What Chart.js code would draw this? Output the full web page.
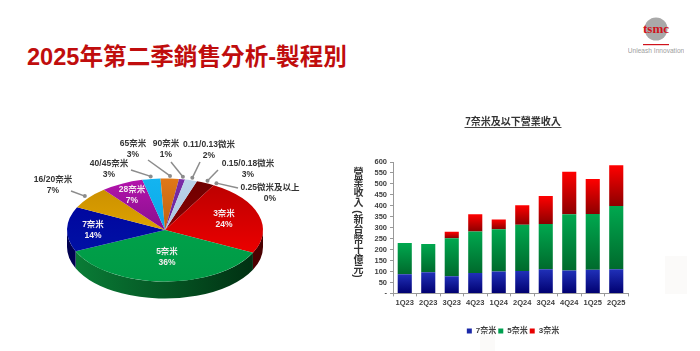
<!DOCTYPE html>
<html>
<head>
<meta charset="utf-8">
<script src="https://cdn.jsdelivr.net/npm/chart.js@4"></script>
<style>
  html, body { margin: 0; padding: 0; background: #fff; }
  body { width: 700px; height: 351px; position: relative; overflow: hidden;
         font-family: "Liberation Sans", "Noto Sans CJK TC", sans-serif; }
  #pageTitle { position: absolute; left: 27px; top: 43px; font-size: 23.6px; font-weight: bold;
               color: #c00d0d; white-space: nowrap; line-height: 28px; }
  #pieBox { position: absolute; left: 0; top: 110px; width: 330px; height: 240px; }
  #barBox { position: absolute; left: 340px; top: 100px; width: 346px; height: 250px; }
  #yTitle { position: absolute; left: 350px; top: 167px; writing-mode: vertical-rl; font-size: 10px;
            font-weight: bold; color: #333; line-height: 14px; white-space: nowrap; letter-spacing: 0.1px; }
  .tile { position: absolute; background: #fbfaf9; }
  #logo { position: absolute; left: 628px; top: 14px; width: 56px; height: 44px; }
</style>
</head>
<body>
<div class="tile" style="left:665px;top:256px;width:22px;height:38px"></div>
<div class="tile" style="left:480px;top:335px;width:15px;height:16px"></div>
<div id="pageTitle">2025年第二季銷售分析-製程別</div>
<svg id="logo" viewBox="0 0 56 44">
  <circle cx="28" cy="15" r="11.5" fill="#a9a9a9"/>
  <text x="28" y="19" text-anchor="middle" font-family="Liberation Serif" font-size="13" font-weight="bold" fill="#d0121b">tsmc</text>
  <rect x="15" y="30" width="26" height="1.2" fill="#d0121b"/>
  <text x="28" y="39" text-anchor="middle" font-family="Liberation Sans" font-size="6.6" fill="#a0a0a0">Unleash Innovation</text>
</svg>
<div id="pieBox"><canvas id="pieCanvas"></canvas></div>
<div id="barBox"><canvas id="barCanvas"></canvas></div>
<div id="yTitle">營業收入 (新台幣十億元)</div>

<script>
// Datos del pastel (% por nodo)
var nodeLabels = ["0.25微米及以上", "0.15/0.18微米", "3奈米", "5奈米", "7奈米", "16/20奈米", "28奈米", "40/45奈米", "65奈米", "90奈米", "0.11/0.13微米"];
var nodeShares = [0, 3, 24, 36, 14, 7, 7, 3, 3, 1, 2];

// Datos de las barras
var quarters = ["1Q23", "2Q23", "3Q23", "4Q23", "1Q24", "2Q24", "3Q24", "4Q24", "1Q25", "2Q25"];
var rev7nm = [88, 97, 78, 93, 100, 102, 110, 104, 108, 110];
var rev5nm = [142, 129, 174, 190, 193, 211, 207, 257, 254, 289];
var rev3nm = [0, 0, 29, 78, 45, 89, 128, 194, 160, 186];

// Colores de cada porción: cara superior (arriba, abajo) y pared (izquierda, derecha)
var topColors = [
  ["#8b0000", "#8b0000"], ["#6e0000", "#a00000"], ["#b80000", "#ff0000"], ["#00a84f", "#009a45"],
  ["#00009c", "#0018a8"], ["#c88c00", "#f2b800"], ["#b414ac", "#5c0a70"], ["#14b4f0", "#00a0e0"],
  ["#e07818", "#a04a08"], ["#7a2ca8", "#5a1c88"], ["#bcd4ea", "#98b8d8"]
];
var wallColors = {
  "3奈米": ["#8a0000", "#4a0000"],
  "5奈米": ["#0a8038", "#002c10"],
  "7奈米": ["#000050", "#000070"]
};

// Posición de los textos del pastel (centro de cada línea) y del inicio de la guía
var pieText = {
  "0.25微米及以上": { x: 270, y: 78, lx: 238, ly: 78, nudge: 11 },
  "0.15/0.18微米": { x: 248, y: 54, lx: 218, ly: 60 },
  "0.11/0.13微米": { x: 209, y: 35, lx: 200, ly: 52 },
  "90奈米": { x: 166, y: 34, lx: 171, ly: 52 },
  "65奈米": { x: 133, y: 34, lx: 148, ly: 50 },
  "40/45奈米": { x: 109, y: 54, lx: 131, ly: 60 },
  "16/20奈米": { x: 53, y: 70, lx: 71, ly: 81 },
  "28奈米": { x: 132, y: 80, white: true },
  "7奈米": { x: 93, y: 115, white: true },
  "5奈米": { x: 167, y: 142, white: true },
  "3奈米": { x: 224, y: 104, white: true }
};

var labelFont = 'bold 8.5px "Liberation Sans", "Noto Sans CJK TC", sans-serif';
var pieSquash = 0.526;
var pieDepth = 17;

// Dibuja el pastel inclinado usando los arcos que calcula Chart.js
var tiltPlugin = {
  id: "tilt",
  beforeDatasetDraw: function (chart) {
    var ctx = chart.ctx;
    var arcs = chart.getDatasetMeta(0).data;
    var cx = arcs[0].x, cy = arcs[0].y, r = arcs[0].outerRadius, ry = r * pieSquash;

    // pared lateral
    arcs.forEach(function (arc, i) {
      var colors = wallColors[nodeLabels[i]];
      if (!colors) return;
      var grad = ctx.createLinearGradient(cx - r, 0, cx + r, 0);
      grad.addColorStop(0, colors[0]);
      grad.addColorStop(1, colors[1]);
      ctx.fillStyle = grad;
      [-2 * Math.PI, 0, 2 * Math.PI].forEach(function (k) {
        var lo = Math.max(arc.startAngle + k, 0);
        var hi = Math.min(arc.endAngle + k, Math.PI);
        if (hi <= lo) return;
        ctx.beginPath();
        ctx.ellipse(cx, cy + pieDepth, r, ry, 0, lo, hi);
        ctx.ellipse(cx, cy, r, ry, 0, hi, lo, true);
        ctx.closePath();
        ctx.fill();
      });
    });

    // cara superior
    ctx.save();
    ctx.translate(cx, cy);
    ctx.scale(1, pieSquash);
    ctx.translate(-cx, -cy);
    arcs.forEach(function (arc) { arc.draw(ctx); });
    ctx.restore();
    return false;
  },
  afterDraw: function (chart) {
    var ctx = chart.ctx;
    var arcs = chart.getDatasetMeta(0).data;
    ctx.save();
    ctx.textAlign = "center";
    ctx.textBaseline = "middle";
    ctx.font = labelFont;
    arcs.forEach(function (arc, i) {
      var spot = pieText[nodeLabels[i]];
      if (spot.lx !== undefined) {
        var mid = (arc.startAngle + arc.endAngle) / 2 + (spot.nudge || 0) * Math.PI / 180;
        var ex = arc.x + arc.outerRadius * 1.05 * Math.cos(mid);
        var ey = arc.y + arc.outerRadius * pieSquash * 1.05 * Math.sin(mid);
        ctx.strokeStyle = "#8c8c8c";
        ctx.fillStyle = "#8c8c8c";
        ctx.lineWidth = 1.5;
        ctx.beginPath();
        ctx.moveTo(spot.lx, spot.ly);
        ctx.lineTo(ex, ey);
        ctx.stroke();
        ctx.beginPath();
        ctx.arc(ex, ey, 2, 0, 2 * Math.PI);
        ctx.fill();
      }
      ctx.fillStyle = spot.white ? "#f4eef0" : "#333";
      ctx.fillText(nodeLabels[i], spot.x, spot.y);
      ctx.fillText(nodeShares[i] + "%", spot.x, spot.y + 11);
    });
    ctx.restore();
  }
};

function sliceGradient(context) {
  var chart = context.chart;
  var h = chart.height / 2;
  var grad = chart.ctx.createLinearGradient(0, h - 98, 0, h + 98);
  var c = topColors[context.dataIndex];
  grad.addColorStop(0, c[0]);
  grad.addColorStop(1, c[1]);
  return grad;
}

new Chart(document.getElementById("pieCanvas"), {
  type: "pie",
  data: {
    labels: nodeLabels,
    datasets: [{ data: nodeShares, backgroundColor: sliceGradient, borderWidth: 0, radius: 98 }]
  },
  options: {
    responsive: true,
    maintainAspectRatio: false,
    animation: false,
    rotation: 19,
    events: [],
    plugins: { legend: { display: false }, tooltip: { enabled: false } }
  },
  plugins: [tiltPlugin]
});

// Degradado vertical de cada tramo de barra
function barGradient(dark, bright, below, values) {
  return function (context) {
    var y = context.chart.scales.y;
    if (!y || context.dataIndex === undefined) return bright;
    var base = below.reduce(function (sum, arr) { return sum + arr[context.dataIndex]; }, 0);
    var y0 = y.getPixelForValue(base);
    var y1 = y.getPixelForValue(base + values[context.dataIndex]);
    if (!isFinite(y0) || !isFinite(y1) || y0 === y1) return bright;
    var grad = context.chart.ctx.createLinearGradient(0, y0, 0, y1);
    grad.addColorStop(0, dark);
    grad.addColorStop(1, bright);
    return grad;
  };
}

// Subraya el título de la gráfica
var underlinePlugin = {
  id: "underline",
  afterDraw: function (chart) {
    var box = chart.titleBlock;
    var ctx = chart.ctx;
    var w = 97;
    var cx = (box.left + box.right) / 2;
    ctx.save();
    ctx.strokeStyle = "#444";
    ctx.lineWidth = 1;
    ctx.beginPath();
    ctx.moveTo(cx - w / 2, box.top + 11.5);
    ctx.lineTo(cx + w / 2, box.top + 11.5);
    ctx.stroke();
    ctx.restore();
  }
};

var smallFont = { family: '"Liberation Sans", "Noto Sans CJK TC", sans-serif', size: 7.5, weight: "bold" };

new Chart(document.getElementById("barCanvas"), {
  type: "bar",
  data: {
    labels: quarters,
    datasets: [
      { label: "7奈米", data: rev7nm, backgroundColor: barGradient("#000070", "#2030b8", [], rev7nm), borderWidth: 0 },
      { label: "5奈米", data: rev5nm, backgroundColor: barGradient("#006a2c", "#00a84f", [rev7nm], rev5nm), borderWidth: 0 },
      { label: "3奈米", data: rev3nm, backgroundColor: barGradient("#8c0000", "#ff0000", [rev7nm, rev5nm], rev3nm), borderWidth: 0 }
    ]
  },
  options: {
    responsive: true,
    maintainAspectRatio: false,
    animation: false,
    events: [],
    barPercentage: 0.6,
    categoryPercentage: 1,
    layout: { padding: { top: 16, right: 0, bottom: 5, left: 0 } },
    scales: {
      x: {
        stacked: true,
        grid: { drawOnChartArea: false, color: "#999", tickLength: 3 },
        border: { color: "#999" },
        ticks: { color: "#404040", font: smallFont, maxRotation: 0, autoSkip: false, padding: 2 },
        afterFit: function (scale) { scale.height = 31.6; }
      },
      y: {
        stacked: true,
        min: 0,
        max: 600,
        grid: { drawOnChartArea: false, color: "#999", tickLength: 3 },
        border: { color: "#999" },
        ticks: {
          stepSize: 50,
          autoSkip: false,
          color: "#404040",
          font: smallFont,
          padding: 3,
          callback: function (v) { return v === 0 ? "-" : v; }
        },
        afterFit: function (scale) { scale.width = 53; }
      },
      // eje vacío: reserva el margen derecho para que título y leyenda queden centrados como en el original
      rightGap: {
        position: "right",
        grid: { display: false },
        border: { display: false },
        ticks: { display: false },
        afterFit: function (scale) { scale.width = 58; }
      }
    },
    plugins: {
      title: {
        display: true,
        text: "7奈米及以下營業收入",
        color: "#333",
        font: { family: smallFont.family, size: 10, weight: "bold" },
        padding: { top: 0, bottom: 34 }
      },
      legend: {
        position: "bottom",
        labels: {
          usePointStyle: true,
          pointStyle: "rect",
          boxWidth: 5,
          boxHeight: 5,
          padding: 2,
          color: "#404040",
          font: { family: smallFont.family, size: 8, weight: "bold" },
          generateLabels: function (chart) {
            var swatch = ["#1a28a8", "#00a050", "#e80000"];
            return chart.data.datasets.map(function (d, i) {
              return { text: d.label, fillStyle: swatch[i], strokeStyle: swatch[i], lineWidth: 0, pointStyle: "rect", fontColor: "#404040", datasetIndex: i };
            });
          }
        }
      },
      tooltip: { enabled: false }
    }
  },
  plugins: [underlinePlugin]
});
</script>
</body>
</html>
